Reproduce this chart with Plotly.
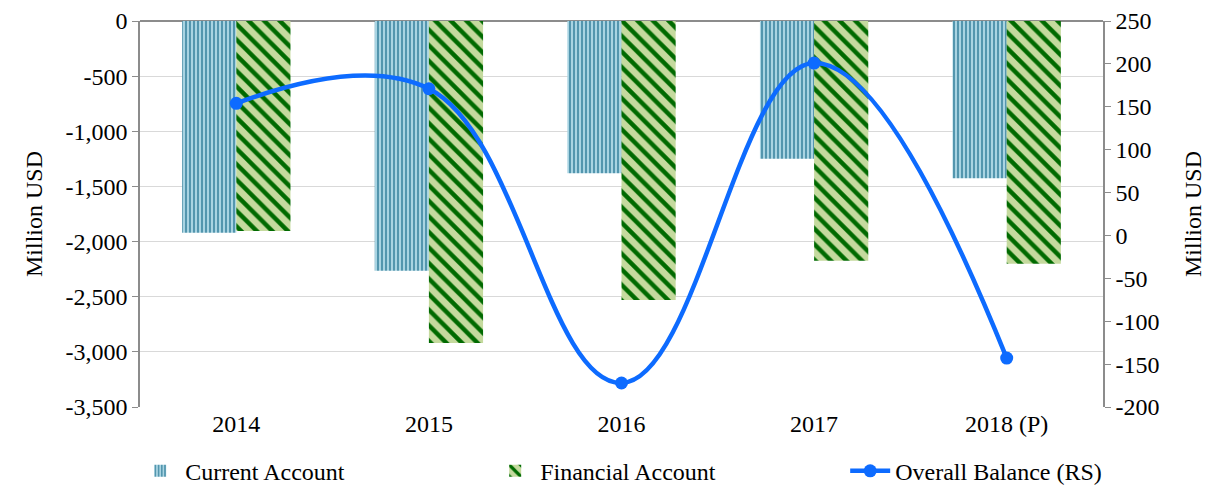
import plotly.graph_objects as go

years = ["2014", "2015", "2016", "2017", "2018 (P)"]
current_account = [-1920, -2265, -1380, -1250, -1425]
financial_account = [-1905, -2920, -2530, -2175, -2200]
overall_balance = [154, 171, -172, 201, -143]

left_ticks = [0, -500, -1000, -1500, -2000, -2500, -3000, -3500]
right_ticks = [250, 200, 150, 100, 50, 0, -50, -100, -150, -200]

FONT = "Liberation Serif"
FS = 24

fig = go.Figure()
fig.add_trace(go.Bar(
    x=years, y=current_account, name="Current Account",
    marker=dict(color="#a9d4e2", line=dict(width=0),
                pattern=dict(shape="|", fgcolor="#4a8fa8", bgcolor="#a9d4e2",
                             size=4, solidity=0.45, fillmode="replace")),
))
fig.add_trace(go.Bar(
    x=years, y=financial_account, name="Financial Account",
    marker=dict(color="#c5da9e", line=dict(width=0),
                pattern=dict(shape="\\", fgcolor="#006a00", bgcolor="#c5da9e",
                             size=11, solidity=0.4, fillmode="replace")),
))
fig.add_trace(go.Scatter(
    x=years, y=overall_balance, name="Overall Balance (RS)", yaxis="y2",
    mode="lines+markers",
    line=dict(color="#0d6bff", width=4.5, shape="spline", smoothing=1.15),
    marker=dict(color="#0d6bff", size=13),
))

# the page body has an 8px margin, so the figure is sized/offset to compensate
fig.update_layout(
    width=1202, height=480,
    margin=dict(l=132, r=107, t=13, b=81, autoexpand=False),
    paper_bgcolor="white", plot_bgcolor="white",
    font=dict(family=FONT, size=FS, color="black"),
    barmode="group", bargap=0.4375, bargroupgap=0,
    showlegend=True,
    legend=dict(orientation="h", x=-0.005, y=-0.108, xanchor="left", yanchor="top",
                entrywidth=300, font=dict(size=FS, family=FONT), traceorder="normal",
                itemwidth=40),
    xaxis=dict(showline=False, ticks="", showgrid=False,
               tickfont=dict(size=FS, family=FONT)),
    yaxis=dict(range=[-3500, 0], tickvals=left_ticks,
               ticktext=[f"{v:,}" for v in left_ticks],
               showgrid=True, gridcolor="#d9d9d9", gridwidth=1,
               showline=True, linecolor="#8c8c8c", linewidth=1.5,
               ticks="outside", ticklen=6, tickcolor="#8c8c8c",
               zeroline=True, zerolinecolor="#8c8c8c", zerolinewidth=1.5,
               title=dict(text="Million USD", font=dict(size=FS, family=FONT), standoff=16)),
    yaxis2=dict(range=[-200, 250], tickvals=right_ticks,
                ticktext=[f"{v}" for v in right_ticks],
                overlaying="y", side="right",
                showgrid=False, zeroline=False,
                showline=True, linecolor="#8c8c8c", linewidth=1.5,
                ticks="outside", ticklen=6, tickcolor="#8c8c8c",
                title=dict(text="Million USD", font=dict(size=FS, family=FONT), standoff=26)),
)

fig.write_html("out.html")
